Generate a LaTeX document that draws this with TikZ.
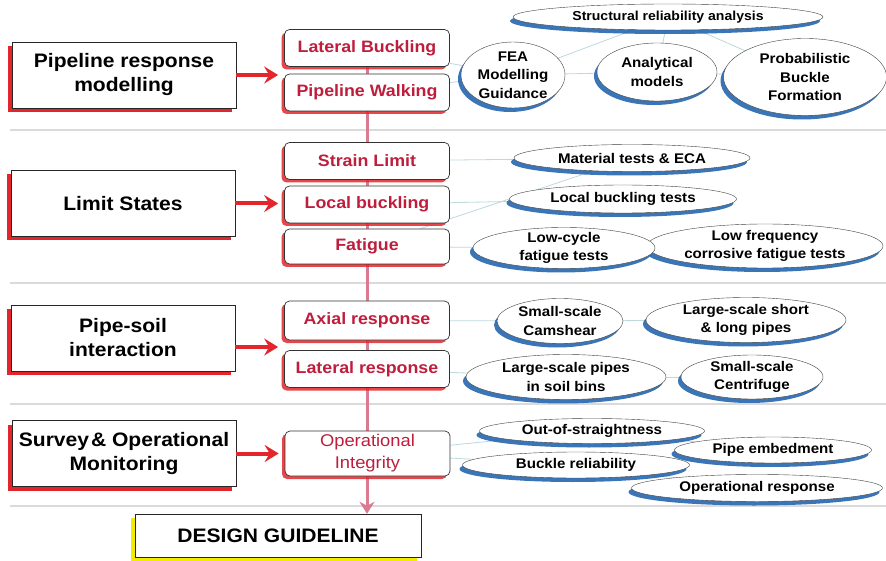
\documentclass[tikz,border=0pt]{standalone}
\usepackage{fontspec}
\setmainfont[FakeStretch=1.08]{Liberation Sans}
\usetikzlibrary{shapes.geometric,shadows,arrows.meta,backgrounds}

\definecolor{taskred}{HTML}{BE1E3C}
\definecolor{feedred}{HTML}{E3262B}
\definecolor{spinepink}{HTML}{D97A90}
\definecolor{linkcyan}{HTML}{BCD9DE}
\definecolor{glowblue}{HTML}{2466B0}
\definecolor{rulegray}{HTML}{DADADA}
\definecolor{glowyellow}{HTML}{F2EC00}

\begin{document}
\begin{tikzpicture}[x=1pt, y=-1pt,
    stage/.style={draw=black!85, fill=white, minimum width=224pt, minimum height=66pt, inner sep=1pt, align=center,
      font=\bfseries\fontsize{19.5}{24}\selectfont,
      drop shadow={shadow xshift=-4pt, shadow yshift=-4pt, fill=feedred, opacity=1}},
    task/.style={draw=black!80, line width=0.7pt, fill=white, rounded corners=5pt, minimum width=165pt, minimum height=37pt, inner sep=1pt,
      align=center, text=taskred, font=\bfseries\fontsize{16.5}{20}\selectfont,
      drop shadow={shadow xshift=-3pt, shadow yshift=-3pt, fill=feedred, opacity=.85}},
    study/.style={ellipse, draw=black!75, fill=white, inner sep=-6pt, align=center,
      font=\bfseries\fontsize{14}{18.5}\selectfont,
      drop shadow={shadow xshift=-3pt, shadow yshift=-4pt, fill=glowblue, opacity=.9}},
    feed/.style={draw=feedred, line width=4pt, -{Stealth[length=14pt,width=17pt,inset=5pt]}, shorten >=6pt},
    link/.style={draw=linkcyan, line width=0.8pt},
    rule/.style={draw=rulegray, line width=1.5pt}]
    \useasboundingbox (0,0) rectangle (886,561);

    % Stages on the left
    \node[stage] (resp) at (124,75) {Pipeline response\\modelling};
    \node[stage] (limit) at (123,203.5) {Limit States};
    \node[stage] (soil) at (123,338) {Pipe-soil\\interaction};
    \node[stage] (survey) at (124,453.5) {Survey\kern2pt\& Operational\\Monitoring};

    % Topics in the middle column
    \node[task] (latbuck) at (367,48) {Lateral Buckling};
    \node[task] (walk) at (367,92.5) {Pipeline Walking};
    \node[task] (strain) at (367,161) {Strain Limit};
    \node[task] (localb) at (367,204.5) {Local buckling};
    \node[task, minimum height=35pt] (fatigue) at (367,246.5) {Fatigue};
    \node[task, minimum height=39pt] (axial) at (367,320.5) {Axial response};
    \node[task] (lateral) at (367,369) {Lateral response};
    \node[task, minimum height=45pt, font=\fontsize{17}{22}\selectfont] (opint) at (367.5,453.5) {Operational\\Integrity};

    \node[draw=black!85, fill=white, minimum width=286pt, minimum height=43pt,
      font=\bfseries\fontsize{19.5}{23}\selectfont,
      drop shadow={shadow xshift=-4pt, shadow yshift=-4pt, fill=glowyellow, opacity=1}] (guide) at (278,535.5) {DESIGN GUIDELINE};

    % Studies: modelling
    \node[study, minimum width=310pt, minimum height=26pt, font=\bfseries\fontsize{13}{16}\selectfont] (sra) at (668,17) {Structural reliability analysis};
    \node[study, minimum width=104pt, minimum height=66pt] (fea) at (513,75) {FEA\\Modelling\\Guidance};
    \node[study, minimum width=120pt, minimum height=58pt] (anm) at (657,72) {Analytical\\models};
    \node[study, minimum width=163pt, minimum height=77pt] (pbf) at (805,77) {Probabilistic\\Buckle\\Formation};

    % Studies: limit states
    \node[study, minimum width=236pt, minimum height=27pt] (mte) at (632,158) {Material tests \& ECA};
    \node[study, minimum width=227pt, minimum height=28pt] (lbt) at (623,199) {Local buckling tests};
    \node[study, minimum width=236pt, minimum height=44pt] (lfc) at (765,246) {Low frequency\\corrosive fatigue tests};
    \node[study, minimum width=182pt, minimum height=41pt] (lcf) at (564,248) {Low-cycle\\fatigue tests};

    % Studies: pipe-soil
    \node[study, minimum width=126pt, minimum height=45pt] (cam) at (560,321) {Small-scale\\Camshear};
    \node[study, minimum width=200pt, minimum height=45pt] (lsl) at (746,320) {Large-scale short\\\& long pipes};
    \node[study, minimum width=200pt, minimum height=45pt] (bins) at (566,377) {Large-scale pipes\\in soil bins};
    \node[study, minimum width=142pt, minimum height=44pt] (cent) at (752,377) {Small-scale\\Centrifuge};

    % Studies: operation
    \node[study, minimum width=197pt, minimum height=26pt] (emb) at (773,450) {Pipe embedment};
    \node[study, minimum width=225pt, minimum height=25pt] (oos) at (592,431) {Out-of-straightness};
    \node[study, minimum width=251pt, minimum height=27pt] (opr) at (757,488) {Operational response};
    \node[study, minimum width=227pt, minimum height=26pt] (brl) at (576,465) {Buckle reliability};

    % Red feeds
    \draw[feed] (resp.east) -- (resp.east -| latbuck.west);
    \draw[feed] (limit.east) -- (limit.east -| localb.west);
    \draw[feed] ([yshift=-9pt]soil.east) -- ([yshift=-9pt]soil.east -| lateral.west);
    \draw[feed] (survey.east) -- (survey.east -| opint.west);

    \begin{scope}[on background layer]
        \fill[white] (0,0) rectangle (886,561);
        \foreach \y in {130,283,404,506}
            \draw[rule] (10,\y) -- (886,\y);
        % Thin links to the studies
        \foreach \a/\b in {latbuck/fea, walk/fea, fea/anm, anm/pbf, sra/fea, sra/anm, sra/pbf,
                           strain/mte, localb/lbt, fatigue/lcf, fatigue/mte, lcf/lfc,
                           axial/cam, cam/lsl, lateral/bins, bins/cent,
                           opint/oos, opint/brl, brl/opr, oos/emb}
            \draw[link] (\a) -- (\b);
        % Spine down to the guideline
        \draw[spinepink, line width=3pt, -{Stealth[length=12pt,width=15pt,inset=4pt]}]
            (latbuck.center) -- (latbuck.center |- guide.north);
    \end{scope}
\end{tikzpicture}
\end{document}
